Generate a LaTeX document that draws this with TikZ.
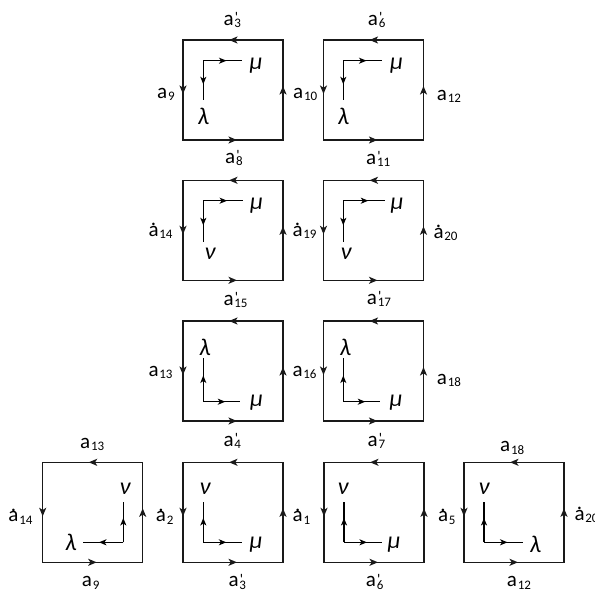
\documentclass[tikz,border=0pt]{standalone}
\usepackage{fontspec}
\setmainfont{Carlito}
\usetikzlibrary{arrows.meta,decorations.markings}
\newcommand\sbs[1]{\kern0.8pt\raisebox{-2.8pt}{\fontsize{13}{13}\selectfont #1}}
\newcommand\la[1]{a\sbs{#1}}
\newcommand\lp[1]{a\rlap{\kern1.2pt\raisebox{2.5pt}{\fontsize{15}{15}\selectfont\textquotesingle}}\sbs{#1}}
\newcommand\dota{\ooalign{a\cr\hfil\raisebox{0.5em}{.}\hfil\cr}}
\newcommand\ld[1]{\dota\sbs{#1}}
\tikzset{
  arrtip/.tip={Stealth[length=8.5pt,width=7pt,inset=2.2pt]},
  intip/.tip={Stealth[length=7.5pt,width=6pt,inset=2pt]},
  frame/.style={draw=black!90, line width=1.5pt, postaction={decorate},
    decoration={markings,
      mark=at position 0.135 with {\arrow{arrtip}},
      mark=at position 0.385 with {\arrow{arrtip}},
      mark=at position 0.635 with {\arrow{arrtip}},
      mark=at position 0.885 with {\arrow{arrtip}}}},
  ax/.style={draw=black, line width=1.2pt, postaction={decorate},
    decoration={markings, mark=at position 0.6 with {\arrow{intip}}}},
  cell/.pic={\draw[frame] (100,0) -- (0,0) -- (0,100) -- (100,100) -- cycle;},
  gk/.style={font=\fontsize{24}{26}\selectfont\itshape, inner sep=0pt},
  lb/.style={font=\fontsize{21}{24}\selectfont, inner sep=0pt, anchor=base west},
}
\begin{document}
\begin{tikzpicture}[x=1pt,y=-1pt]
\useasboundingbox (0,0) rectangle (595,592);
% squares
\pic at (183,40) {cell};
\pic at (323.5,40) {cell};
\pic at (183,180.3) {cell};
\pic at (323.5,180.3) {cell};
\pic at (183,321) {cell};
\pic at (323.5,321) {cell};
\pic at (42.7,462.3) {cell};
\pic at (183,462.3) {cell};
\pic at (324,462.3) {cell};
\pic at (464,462.3) {cell};
% inner axes corners
\coordinate (k1) at (203.3,60.7);
\coordinate (k2) at (343.3,60.7);
\coordinate (k3) at (203.3,200.7);
\coordinate (k4) at (343.3,200.7);
\coordinate (k5) at (203.3,401.7);
\coordinate (k6) at (343.3,401.7);
\coordinate (k7) at (123.3,542.3);
\coordinate (k8) at (203.3,542.3);
\coordinate (k9) at (344,542.3);
\coordinate (k10) at (484,542.3);
% axes
\draw[ax] (k1) -- ++(38.7,0);
\draw[ax] (k1) -- ++(0,39.3);
\draw[ax] (k2) -- ++(38.7,0);
\draw[ax] (k2) -- ++(0,39.3);
\draw[ax] (k3) -- ++(39.7,0);
\draw[ax] (k3) -- ++(0,41);
\draw[ax] (k4) -- ++(41.7,0);
\draw[ax] (k4) -- ++(0,41);
\draw[ax] (k5) -- ++(36.7,0);
\draw[ax] (k5) -- ++(0,-43.7);
\draw[ax] (k6) -- ++(36.7,0);
\draw[ax] (k6) -- ++(0,-43.7);
\draw[ax] (k7) -- ++(-40.6,0);
\draw[ax] (k7) -- ++(0,-40.6);
\draw[ax] (k8) -- ++(38.4,0);
\draw[ax] (k8) -- ++(0,-40.6);
\draw[ax] (k9) -- ++(38.3,0);
\draw[ax] (k9) -- ++(0,-40.6);
\draw[ax] (k10) -- ++(39.3,0);
\draw[ax] (k10) -- ++(0,-40.6);
% greek letters
\node[gk] (m1) at (256,65.5) {μ};
\node[gk] (l1) at (203.5,116.5) {λ};
\node[gk] (m2) at (396.5,65.5) {μ};
\node[gk] (l2) at (343.5,116.5) {λ};
\node[gk] (m3) at (256.5,205.5) {μ};
\node[gk] (n3) at (210,253.5) {ν};
\node[gk] (m4) at (397,205.5) {μ};
\node[gk] (n4) at (346,253.5) {ν};
\node[gk] (l5) at (205,347.5) {λ};
\node[gk] (m5) at (256.5,402.5) {μ};
\node[gk] (l6) at (345.5,347.5) {λ};
\node[gk] (m6) at (396,402.5) {μ};
\node[gk] (n7) at (125,489) {ν};
\node[gk] (l7) at (71,542.5) {λ};
\node[gk] (n8) at (205,489) {ν};
\node[gk] (m8) at (256,544.5) {μ};
\node[gk] (n9) at (343,489) {ν};
\node[gk] (m9) at (394,545) {μ};
\node[gk] (n10) at (484,489) {ν};
\node[gk] (l10) at (535.5,544) {λ};
% edge labels
\node[lb] (t1) at (223.3,25) {\lp{3}};
\node[lb] (t2) at (367.7,25) {\lp{6}};
\node[lb] (t3) at (157,98) {\la{9}};
\node[lb] (t4) at (293,98) {\la{10}};
\node[lb] (t5) at (436.7,100) {\la{12}};
\node[lb] (t6) at (225,163) {\lp{8}};
\node[lb] (t7) at (366,164) {\lp{11}};
\node[lb] (t8) at (148.3,236) {\ld{14}};
\node[lb] (t9) at (292.3,236) {\ld{19}};
\node[lb] (t10) at (433.3,238) {\ld{20}};
\node[lb] (t11) at (223.3,305) {\lp{15}};
\node[lb] (t12) at (366.7,304) {\lp{17}};
\node[lb] (t13) at (148.3,376) {\la{13}};
\node[lb] (t14) at (292.3,376) {\la{16}};
\node[lb] (t15) at (436.7,384) {\la{18}};
\node[lb] (t16) at (223.3,446) {\lp{4}};
\node[lb] (t17) at (367.5,446) {\lp{7}};
\node[lb] (t18) at (80,448) {\la{13}};
\node[lb] (t19) at (500,451.7) {\la{18}};
\node[lb] (t20) at (8.3,521.7) {\ld{14}};
\node[lb] (t21) at (155.7,521.7) {\ld{2}};
\node[lb] (t22) at (292.5,521.7) {\ld{1}};
\node[lb] (t23) at (437.8,521.7) {\ld{5}};
\node[lb] (t24) at (574.3,520) {\ld{20}};
\node[lb] (t25) at (81.7,586.7) {\la{9}};
\node[lb] (t26) at (228.3,586.7) {\lp{3}};
\node[lb] (t27) at (365.7,586.7) {\lp{6}};
\node[lb] (t28) at (506.7,586.7) {\la{12}};
\end{tikzpicture}
\end{document}
